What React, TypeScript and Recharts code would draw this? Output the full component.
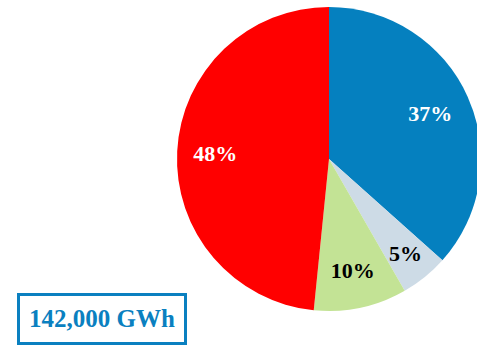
import { PieChart, Pie, Cell } from "recharts";

const categories = ["Blue", "Other", "Green", "Red"];
const shares = [36.6, 5.1, 9.9, 48.4];
const labelColors = ["#ffffff", "#000000", "#000000", "#ffffff"];
const labelRadius = [0.73, 0.8, 0.75, 0.75];
const sliceColors = ["#0580BF", "#CDDBE6", "#C3E395", "#FF0000"];
const totalLabel = "142,000 GWh";

const data = categories.map((name, i) => ({ name, value: shares[i] }));

const RADIAN = Math.PI / 180;

const renderLabel = (props: any) => {
  const { cx, cy, midAngle, outerRadius, index, value } = props;
  const r = outerRadius * labelRadius[index];
  const x = cx + r * Math.cos(-midAngle * RADIAN);
  const y = cy + r * Math.sin(-midAngle * RADIAN);
  return (
    <text
      x={x}
      y={y}
      fill={labelColors[index]}
      textAnchor="middle"
      dominantBaseline="central"
      fontFamily="'Liberation Serif', 'Times New Roman', serif"
      fontWeight="bold"
      fontSize={22}
    >
      {Math.round(value)}%
    </text>
  );
};

export default function App() {
  return (
    <div style={{ position: "absolute", left: 0, top: 0, width: 477, height: 347, background: "#fff" }}>
      <PieChart width={477} height={347} margin={{ top: 0, right: 0, bottom: 0, left: 0 }}>
        <Pie
          data={data}
          dataKey="value"
          cx={329}
          cy={159}
          outerRadius={152}
          startAngle={90}
          endAngle={-270}
          stroke="none"
          label={renderLabel}
          labelLine={false}
          isAnimationActive={false}
        >
          {data.map((d, i) => (
            <Cell key={d.name} fill={sliceColors[i]} />
          ))}
        </Pie>
      </PieChart>
      <div
        style={{
          position: "absolute",
          left: 17,
          top: 293,
          width: 164,
          height: 46,
          border: "3px solid #0A80C0",
          display: "flex",
          alignItems: "center",
          justifyContent: "center",
          color: "#0A80C0",
          fontFamily: "'Liberation Serif', 'Times New Roman', serif",
          fontWeight: "bold",
          fontSize: 25,
        }}
      >
        {totalLabel}
      </div>
    </div>
  );
}
